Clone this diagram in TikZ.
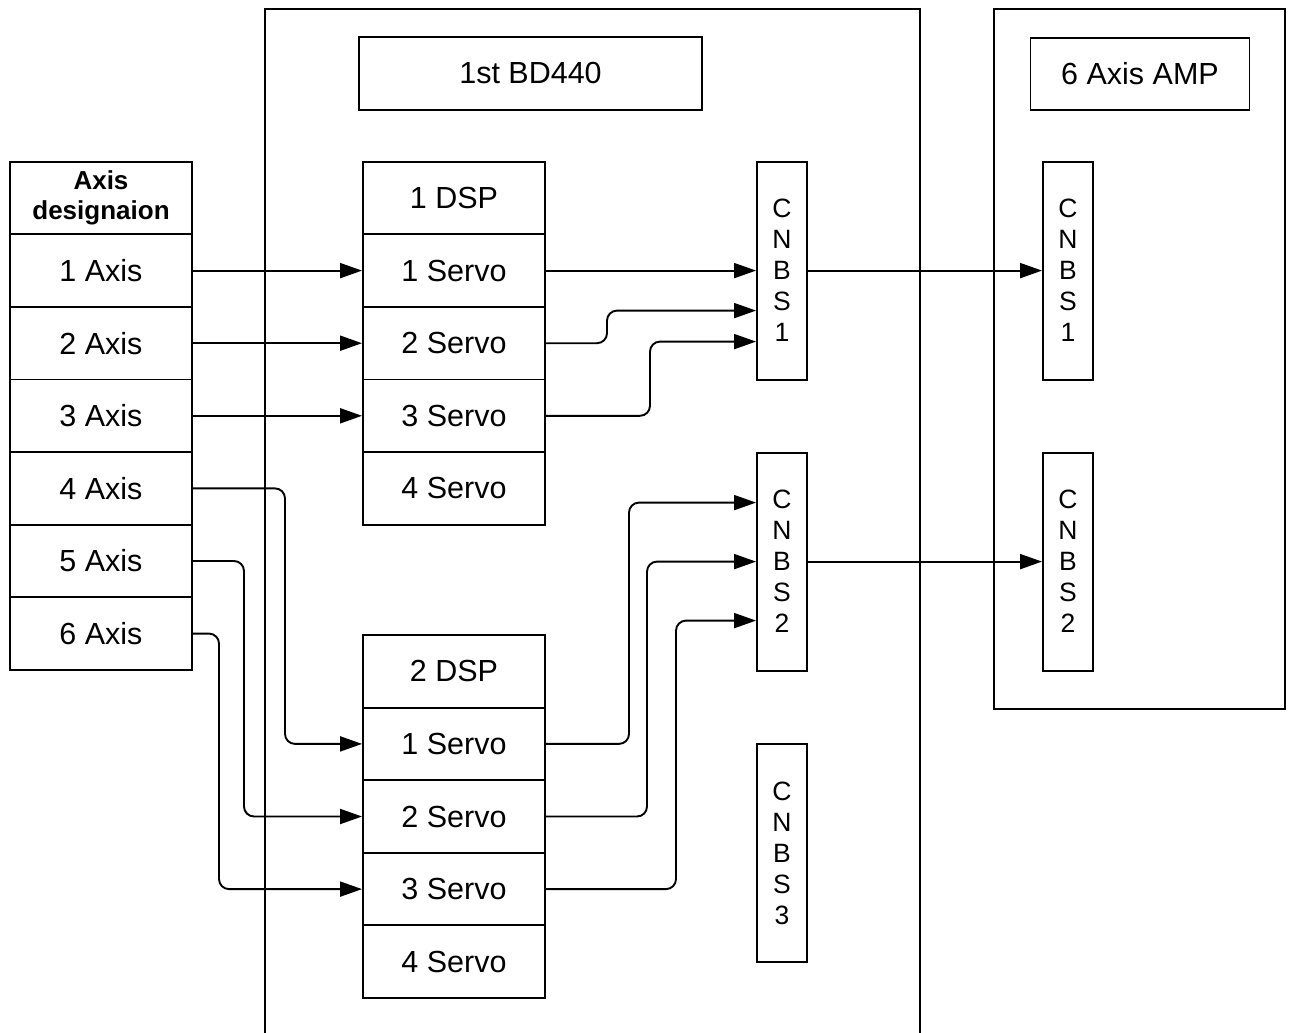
\documentclass[tikz,border=0pt]{standalone}
\usepackage{fontspec}
\setmainfont{Liberation Sans}
\usetikzlibrary{arrows.meta,calc}
\begin{document}
\begin{tikzpicture}[x=1pt,y=-1pt,
  cell/.style={draw, line width=1.9pt, minimum width=182pt, minimum height=72.6pt, inner sep=0pt, font=\fontsize{30.5}{34}\selectfont},
  cn/.style={draw, line width=1.9pt, minimum width=50pt, minimum height=218pt, inner sep=0pt, align=center, font=\fontsize{26.5}{31}\selectfont},
  titlebox/.style={draw, line width=1.9pt, inner sep=0pt, font=\fontsize{30.5}{36}\selectfont},
  arr/.style={line width=1.9pt, -{Triangle[length=22pt,width=15pt]}, rounded corners=10pt},
  frame/.style={line width=1.9pt}]
\useasboundingbox (0,0) rectangle (1290,1033);

% frames
\draw[frame] (265,1040) -- (265,9) -- (920,9) -- (920,1040);
\draw[frame] (994,9) rectangle (1285,709);

% titles
\node[titlebox, minimum width=343pt, minimum height=73pt] (bd) at (530.5,73.5) {1st BD440};
\node[titlebox, minimum width=219pt, minimum height=72pt] (amp) at (1140,74) {6 Axis AMP};

% axis column
\node[cell, align=center, font=\fontsize{26}{30}\selectfont\bfseries] (ah) at (101,198) {Axis\\designaion};
\node[cell] (a1) at (101,270.6) {1 Axis};
\node[cell] (a2) at (101,343.2) {2 Axis};
\node[cell] (a3) at (101,415.8) {3 Axis};
\node[cell] (a4) at (101,488.4) {4 Axis};
\node[cell] (a5) at (101,561) {5 Axis};
\node[cell] (a6) at (101,633.6) {6 Axis};

% DSP 1
\node[cell] (d1) at (454,198) {1 DSP};
\node[cell] (s11) at (454,270.6) {1 Servo};
\node[cell] (s12) at (454,343.2) {2 Servo};
\node[cell] (s13) at (454,415.8) {3 Servo};
\node[cell] (s14) at (454,488.4) {4 Servo};

% DSP 2
\node[cell] (d2) at (454,671.3) {2 DSP};
\node[cell] (s21) at (454,743.9) {1 Servo};
\node[cell] (s22) at (454,816.5) {2 Servo};
\node[cell] (s23) at (454,889.1) {3 Servo};
\node[cell] (s24) at (454,961.7) {4 Servo};

% connectors
\node[cn] (c1) at (782,270.6) {C\\N\\B\\S\\1};
\node[cn] (c2) at (782,561.6) {C\\N\\B\\S\\2};
\node[cn] (c3) at (782,853) {C\\N\\B\\S\\3};
\node[cn] (m1) at (1068,270.6) {C\\N\\B\\S\\1};
\node[cn] (m2) at (1068,561.6) {C\\N\\B\\S\\2};

% arrows axis -> DSP1
\draw[arr] (a1.east) -- (s11.west);
\draw[arr] (a2.east) -- (s12.west);
\draw[arr] (a3.east) -- (s13.west);

% arrows axis -> DSP2
\draw[arr] (a4.east) -- (285,488.4) |- (s21.west);
\draw[arr] (a5.east) -- (244,561) |- (s22.west);
\draw[arr] (a6.east) -- (219,633.6) |- (s23.west);

% DSP1 -> CNBS1
\draw[arr] (s11.east) -- (c1.west);
\draw[arr] (s12.east) -- (607,343.2) |- ($(c1.west)+(0,40)$);
\draw[arr] (s13.east) -- (650,415.8) |- ($(c1.west)+(0,71)$);

% DSP2 -> CNBS2
\draw[arr] (s21.east) -- (629,743.9) |- ($(c2.west)+(0,-59)$);
\draw[arr] (s22.east) -- (647,816.5) |- (c2.west);
\draw[arr] (s23.east) -- (676,889.1) |- ($(c2.west)+(0,59)$);

% CNBS -> AMP
\draw[arr] (c1.east) -- (m1.west);
\draw[arr] (c2.east) -- (m2.west);
\end{tikzpicture}
\end{document}
